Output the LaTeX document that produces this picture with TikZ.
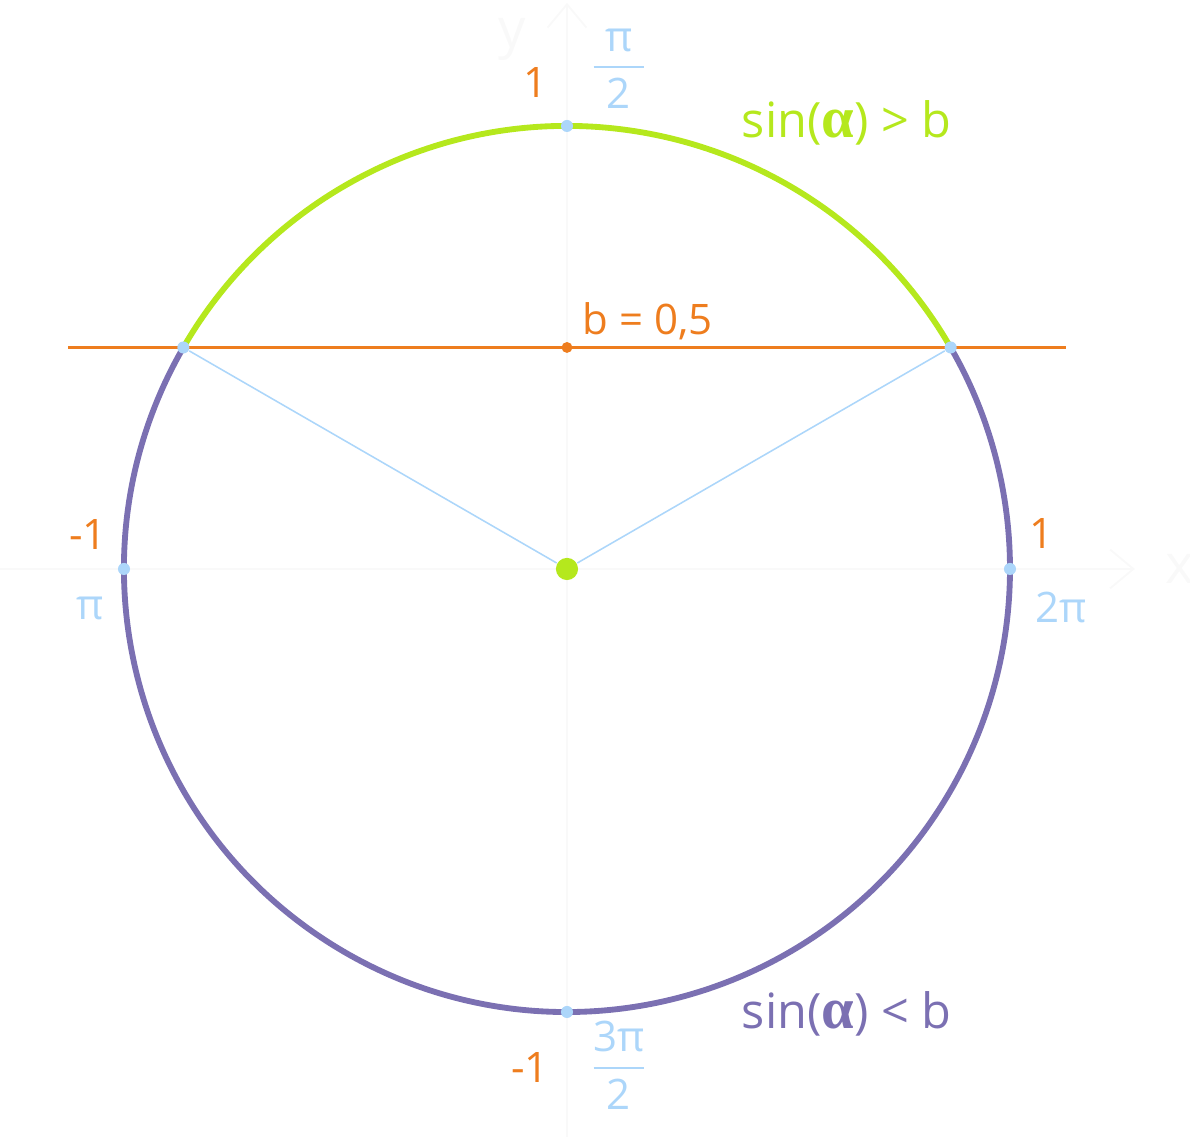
\documentclass[tikz,border=0pt]{standalone}
\usepackage{fontspec}
\setmainfont{Open Sans}
\newfontfamily\alphafont{Liberation Serif}
\usetikzlibrary{arrows.meta}
\definecolor{arcgreen}{RGB}{181,232,29}
\definecolor{arcpurple}{RGB}{123,112,178}
\definecolor{borange}{RGB}{238,125,30}
\definecolor{tickblue}{RGB}{172,214,250}
\definecolor{axisfaint}{RGB}{249,249,249}
\newcommand\pifrac[2]{\setlength\arrayrulewidth{0.5pt}\begin{tabular}{@{}c@{}}\makebox[13pt]{#1}\\\hline\rule{0pt}{10.3pt}#2\end{tabular}}
\newcommand\bigalpha{{\alphafont\bfseries\fontsize{15}{15}\selectfont α}}
\tikzset{
  tick/.style={circle, fill=tickblue, minimum size=3.1pt},
  lbl/.style={font=\fontsize{10.8}{13}\selectfont, anchor=base},
  ineq/.style={font=\fontsize{12.5}{15}\selectfont, anchor=base west},
  axis/.style={axisfaint, line width=0.5pt, -{Straight Barb[length=6pt,width=10pt]}},
}
\begin{document}
\begin{tikzpicture}[scale=4]
            \tikzstyle{every node}+=[inner sep=0pt]
                \useasboundingbox (-1.2799,-1.2822) rectangle (1.4063,1.2844);
                % axes
                \coordinate (xs) at (-1.28,0);
                \coordinate (xe) at (1.282,0);
                \coordinate (ys) at (0,-1.2822);
                \coordinate (ye) at (0,1.278);
                \draw [axis] (xs) -- (xe);
                \draw [axis] (ys) -- (ye);
                \node [axisfaint, font=\fontsize{14}{16}\selectfont, anchor=base] (ylab) at (-0.124,1.178) {y};
                \node [axisfaint, font=\fontsize{14}{16}\selectfont, anchor=base] (xlab) at (1.384,-0.032) {x};
                % circle
                \draw [arcpurple, line width=1.5pt] (150:1) arc [start angle=150, end angle=390, radius=1];
                \draw [arcgreen, line width=1.5pt] (30:1) arc [start angle=30, end angle=150, radius=1];
                % b line
                \coordinate (bl) at (-1.126,0.5);
                \coordinate (br) at (1.126,0.5);
                \draw [borange, line width=0.75pt] (bl) -- (br);
                \node [circle, fill=borange, minimum size=2.8pt] (bmid) at (0,0.5) {};
                \node [circle, fill=arcgreen, minimum size=5.7pt] (o) at (0,0) {};
                \node [tick] (p1) at (30:1) {};
                \node [tick] (p2) at (150:1) {};
                \node [tick] (top) at (0,1) {};
                \node [tick] (left) at (-1,0) {};
                \node [tick] (right) at (1,0) {};
                \node [tick] (bottom) at (0,-1) {};
                \draw [tickblue, line width=0.4pt] (o) -- (p1);
                \draw [tickblue, line width=0.4pt] (o) -- (p2);
                % labels
                \node [lbl, borange] (onetop) at (-0.070,1.065) {1};
                \node [tickblue, font=\fontsize{10.8}{13}\selectfont] (halfpi) at (0.117,1.127) {\pifrac{π}{2}};
                \node [lbl, borange] (mleft) at (-1.081,0.043) {-1};
                \node [lbl, tickblue] (pileft) at (-1.077,-0.115) {π};
                \node [lbl, borange] (oneright) at (1.072,0.047) {1};
                \node [lbl, tickblue] (twopi) at (1.115,-0.120) {2π};
                \node [lbl, borange] (mbottom) at (-0.084,-1.160) {-1};
                \node [tickblue, font=\fontsize{10.8}{13}\selectfont] (threepi) at (0.117,-1.132) {\pifrac{3π}{2}};
                \node [lbl, borange, anchor=base west] (blab) at (0.034,0.530) {b = 0,5};
                \node [ineq, arcgreen] (gt) at (0.393,0.975) {sin(\bigalpha) > b};
                \node [ineq, arcpurple] (lt) at (0.393,-1.038) {sin(\bigalpha) < b};
            \end{tikzpicture}
\end{document}
